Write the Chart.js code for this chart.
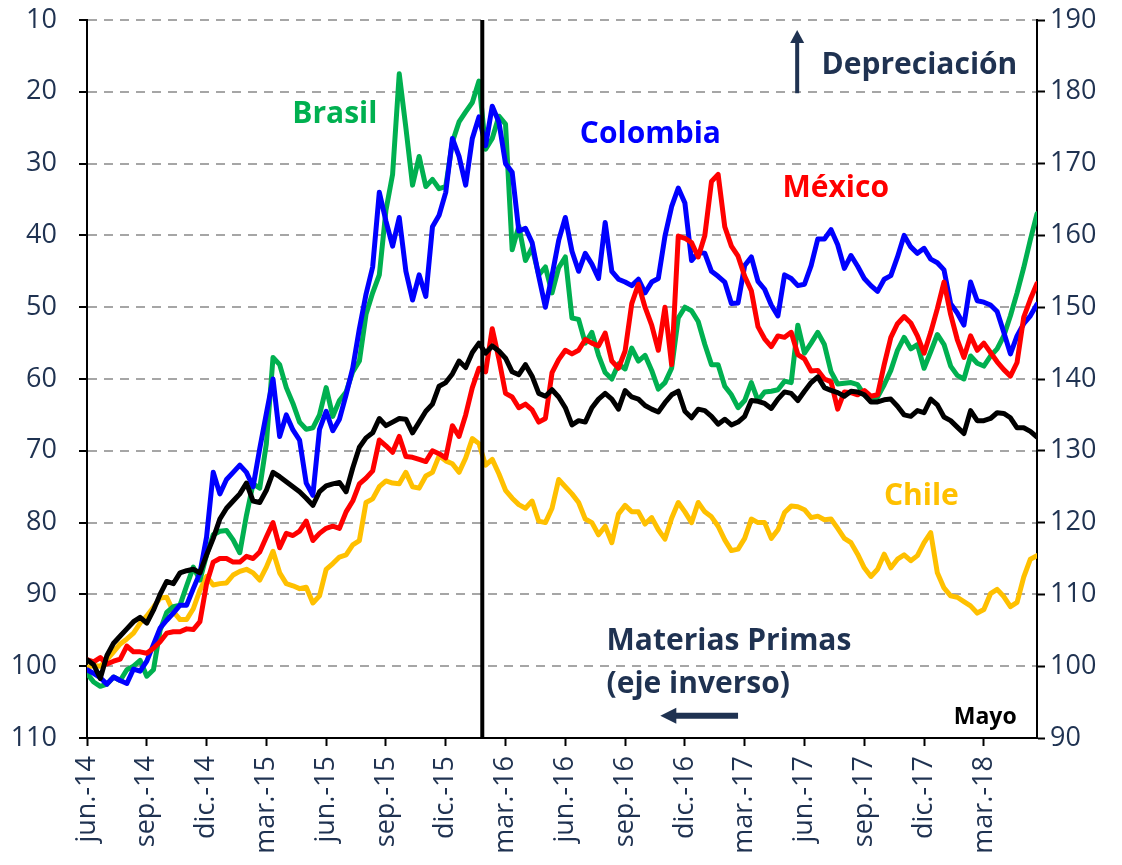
<!DOCTYPE html>
<html lang="es">
<head>
<meta charset="UTF-8">
<title>Monedas y materias primas</title>
<script src="https://cdn.jsdelivr.net/npm/chart.js"></script>
<style>
  body { margin: 0; background: #fff; }
  #wrap { width: 1122px; height: 865px; }
</style>
</head>
<body>
<div id="wrap"><canvas id="grafico" width="1122" height="865"></canvas></div>
<script>
// eje x: 3 observaciones por mes (días 1, 11 y 21), jun.-14 a may.-18
const etiquetasX = ['jun.-14','sep.-14','dic.-14','mar.-15','jun.-15','sep.-15','dic.-15','mar.-16',
                    'jun.-16','sep.-16','dic.-16','mar.-17','jun.-17','sep.-17','dic.-17','mar.-18'];
const obsPorTrimestre = 9;
const corte = 59.5; // línea vertical (ene.-16)

// materias primas, eje izquierdo invertido
const materiasPrimas = [99.1,99.8,101.7,98.5,96.8,95.8,94.8,93.8,93.2,94,
  92.2,90,88.2,88.5,87,86.7,86.5,87,84.5,82.2,
  79.5,78,77,76,74.5,77,77.2,75.5,73,73.6,
  74.3,75,75.7,76.6,77.6,75.7,74.9,74.6,74.4,75.7,
  72.4,69.5,68.2,67.5,65.5,66.5,66,65.5,65.6,67.5,
  66,64.5,63.5,61,60.5,59.3,57.5,58.4,56.3,55,
  56.4,55.4,56.1,57.1,59,59.4,58,59.6,62,62.4,
  61.5,62.5,64,66.4,65.8,66,64,62.8,62,62.8,
  64.2,61.6,62.5,62.8,63.7,64.2,64.6,63.3,62.2,61.7,
  64.5,65.4,64.2,64.4,65.2,66.3,65.6,66.4,66,65.2,
  63,63.1,63.4,64.1,62.8,61.8,62,63,61.7,60.5,
  59.7,61.2,61.6,61.9,62.4,61.7,61.8,62.2,63.2,63.2,
  62.9,62.8,63.8,65,65.2,64.4,64.7,62.8,63.6,65.3,
  65.8,66.7,67.6,64.4,65.8,65.8,65.5,64.7,64.8,65.4,
  66.8,66.8,67.3,68.1];

// monedas, eje derecho
const brasil = [99,97.8,97.2,97.5,98.5,98,99.5,100,100.8,98.6,
  99.5,105,107.5,108.3,108.5,111.2,113.8,112,115.5,118.3,
  118.8,118.9,117.6,115.8,121,125.4,124.8,131,143,142,
  138.8,136.6,134,133,133.2,135,138.8,134.8,137,138.2,
  141,142.5,149,152,154.5,163.5,168.5,182.5,175,167,
  171,166.8,167.8,166.5,166.8,173,175.8,177.2,178.5,181.5,
  172,173.5,176.6,175.5,158,161.3,156.5,158.3,154.5,155.6,
  152,155.5,157,148.5,148.3,145,146.5,143.3,140.9,140,
  142.1,141.4,144.3,142.5,143.3,141.2,138.6,139.5,141.5,148.5,
  150,149.5,148,144.8,142,142,139,137.8,136,137,
  139.5,137,138.2,138.3,138.5,139.7,139.5,147.5,143.6,145,
  146.5,144.8,141,139.3,139.4,139.5,139.2,137.8,137,137.5,
  139.2,141.2,144,145.8,144.2,144.8,141.5,143.8,146.2,144.8,
  141.8,140.5,140,143.2,142.2,141.8,143.2,144.2,146,148.8,
  152,155.5,159.4,163];

const colombia = [99.5,99,98.4,97.5,98.5,98,97.6,99.6,99.3,100.7,
  103,105.3,106.4,107.4,108.5,108.5,110.8,113,118,127,
  124,126,127,128,127,125,130.3,135.2,140,132,
  135,132.9,131.5,125.5,123.8,133,135.5,132.8,134.4,137.8,
  141.5,147,151.8,155.6,166,162,158.5,162.5,155,151,
  154.5,151.5,161.2,162.8,166,173.5,171,167,173.5,176.5,
  172.5,178,175.8,170,168.8,160.6,161,159,154.3,150,
  154.4,159.3,162.5,157.8,155,157.5,156,154,161.8,155,
  153.9,153.5,153,153.9,152,153.5,154,159.9,164,166.6,
  164.5,156.5,157.6,157.5,155,154.3,153.5,150.5,150.6,155.8,
  157,153.6,152.5,150.3,148.8,154.5,154,153,153.2,155.8,
  159.5,159.5,160.8,158.7,155.4,157.2,155.7,154,153,152.2,
  153.9,154.4,157,160,158.4,157.5,158.2,156.7,156.2,155.2,
  150.5,149.2,147.5,153.5,150.9,150.7,150.3,149.4,146.5,143.5,
  146,147.7,148.8,150.4];

const mexico = [100.9,100.6,101.2,100.3,100.7,101,102.8,102,102,101.8,
  102.5,103.4,104.6,104.8,104.8,105.2,105.1,106.2,111.5,114.5,
  115,115,114.5,114.5,115.3,115,115.9,118,120,116.5,
  118.5,118.2,118.8,120.2,117.5,118.5,119.2,119.5,119.2,121.5,
  123,125.4,126.2,127.2,131.5,130.7,129.8,132,129.2,129.1,
  128.8,128.5,130,129.6,129,133.5,132,135,138.8,141.5,
  141,147,142.8,138,137.5,136,136.5,135.7,134,134.5,
  140.9,142.7,144,143.5,144,145.5,145,144.6,146.4,142.5,
  141.5,143.9,150.5,153.2,150,147.5,144,150,142,159.9,
  159.6,159,157,160,167.5,168.5,161.2,158.5,157.1,154.3,
  152.3,147.3,145.6,144.5,146,145.8,146.5,143.4,142.8,141.1,
  141.2,140,139.6,135.8,138.2,138.1,137.8,138.4,137.6,137.8,
  142,145.8,147.7,148.7,147.8,146,143.6,146.5,149.8,153.5,
  149,145.5,143,146,144,145,143.7,142.4,141.3,140.4,
  142.3,148.6,151.1,153.3];

const chile = [99.8,100.1,100,100.9,102,103.1,103.8,104.6,106,107,
  108.2,109.5,109.6,107.6,106.5,106.5,108,110.6,112.5,111.3,
  111.5,111.6,112.7,113.2,113.5,113,112,113.8,116,113,
  111.5,111.2,110.8,111,108.8,109.8,113.5,114.3,115.2,115.5,
  116.9,117.5,122.8,123.3,125,125.8,125.5,125.4,127,125,
  124.8,126.5,127,129.3,128.6,128.2,127,129,131.7,131,
  128,128.8,126.8,124.5,123.4,122.5,122,123,120.2,120,
  122,126,125,124,122.8,120.5,120,118.3,119.5,117.2,
  121.2,122.4,121.5,121.5,119.8,120.7,119,117.7,120.6,122.8,
  121.5,120,122.8,121.5,120.8,119.5,117.6,116.1,116.3,117.8,
  120.5,120,120,117.8,119,121.4,122.3,122.2,121.8,120.7,
  120.9,120.4,120.5,119.2,117.8,117.2,115.6,113.7,112.5,113.5,
  115.6,113.7,114.9,115.5,114.7,115.4,117.2,118.6,113,110.9,
  109.8,109.6,109,108.4,107.4,107.9,110.1,110.7,109.7,108.3,
  108.9,112.4,114.9,115.4];

const fuente = "'Open Sans', sans-serif";
const azulOscuro = '#1F3251';
const grosorLinea = 5;

// textos sobre el gráfico (posición en unidades de los ejes x / derecho)
const anotaciones = [
  { texto: 'Brasil', k: 37.3, v: 176.8, color: '#00B050' },
  { texto: 'Colombia', k: 84.8, v: 174.1, color: '#0000FF' },
  { texto: 'México', k: 112.7, v: 166.6, color: '#FF0000' },
  { texto: 'Chile', k: 125.6, v: 123.6, color: '#FFC000' },
  { texto: 'Depreciación', k: 125.3, v: 183.7, color: azulOscuro },
  { texto: 'Materias Primas', k: 78.2, v: 103.4, color: azulOscuro, align: 'left' },
  { texto: '(eje inverso)', k: 78.2, v: 97.4, color: azulOscuro, align: 'left' },
  { texto: 'Mayo', k: 135.2, v: 92.9, color: '#000', size: 23 }
];

function puntos(serie) {
  return serie.map((v, i) => ({ x: i, y: v }));
}

function serie(nombre, valores, eje, color, orden) {
  return {
    label: nombre, data: puntos(valores), yAxisID: eje,
    borderColor: color, borderWidth: grosorLinea, order: orden,
    pointRadius: 0, tension: 0, fill: false,
    borderJoinStyle: 'round', borderCapStyle: 'round'
  };
}

// ancho fijo de los ejes verticales, sin relleno extra arriba/abajo
function fijarEje(ancho) {
  return s => { s.width = ancho; s.paddingTop = 0; s.paddingBottom = 0; };
}

const pluginExtras = {
  id: 'extras',
  afterDatasetsDraw(chart) {
    const { ctx, chartArea, scales } = chart;
    const x = scales.x, y1 = scales.y1;
    ctx.save();

    // línea vertical
    const xv = x.getPixelForValue(corte);
    ctx.strokeStyle = '#000';
    ctx.lineWidth = 4;
    ctx.beginPath();
    ctx.moveTo(xv, chartArea.top);
    ctx.lineTo(xv, chartArea.bottom);
    ctx.stroke();

    // textos
    ctx.textBaseline = 'middle';
    anotaciones.forEach(a => {
      ctx.font = `bold ${a.size || 30}px ${fuente}`;
      ctx.fillStyle = a.color;
      ctx.textAlign = a.align || 'center';
      ctx.fillText(a.texto, x.getPixelForValue(a.k), y1.getPixelForValue(a.v));
    });

    // flecha hacia arriba (depreciación)
    ctx.fillStyle = azulOscuro;
    ctx.strokeStyle = azulOscuro;
    const xa = x.getPixelForValue(106.9);
    const yBase = y1.getPixelForValue(179.8), yPunta = y1.getPixelForValue(188.6);
    ctx.lineWidth = 4;
    ctx.beginPath(); ctx.moveTo(xa, yBase); ctx.lineTo(xa, yPunta + 10); ctx.stroke();
    ctx.beginPath();
    ctx.moveTo(xa, yPunta); ctx.lineTo(xa - 7, yPunta + 13); ctx.lineTo(xa + 7, yPunta + 13);
    ctx.closePath(); ctx.fill();

    // flecha hacia la izquierda (eje inverso)
    const yf = y1.getPixelForValue(93.1);
    const xCola = x.getPixelForValue(98), xP = x.getPixelForValue(86.3);
    ctx.lineWidth = 6;
    ctx.beginPath(); ctx.moveTo(xCola, yf); ctx.lineTo(xP + 12, yf); ctx.stroke();
    ctx.beginPath();
    ctx.moveTo(xP, yf); ctx.lineTo(xP + 16, yf - 8); ctx.lineTo(xP + 16, yf + 8);
    ctx.closePath(); ctx.fill();

    ctx.restore();
  }
};

const fuenteEjes = { family: fuente, size: 27 };

new Chart(document.getElementById('grafico'), {
  type: 'line',
  data: {
    datasets: [
      serie('Materias Primas', materiasPrimas, 'y', '#000000', 0),
      serie('México', mexico, 'y1', '#FF0000', 1),
      serie('Colombia', colombia, 'y1', '#0000FF', 2),
      serie('Brasil', brasil, 'y1', '#00B050', 3),
      serie('Chile', chile, 'y1', '#FFC000', 4)
    ]
  },
  options: {
    responsive: false,
    animation: false,
    layout: { padding: { top: 20, left: 0, right: 0, bottom: 0 } },
    plugins: { legend: { display: false }, tooltip: { enabled: false } },
    scales: {
      x: {
        type: 'linear',
        min: 0,
        max: materiasPrimas.length - 1,
        afterBuildTicks: s => { s.ticks = etiquetasX.map((_, i) => ({ value: i * obsPorTrimestre })); },
        afterFit: s => { s.height = 127; },
        grid: { drawOnChartArea: false, drawTicks: true, tickLength: 8, tickColor: '#000', tickWidth: 2 },
        border: { color: '#000', width: 2 },
        ticks: {
          autoSkip: false, minRotation: 90, maxRotation: 90, padding: 10,
          color: azulOscuro, font: fuenteEjes,
          callback: (v, i) => etiquetasX[i]
        }
      },
      y: {
        position: 'left',
        reverse: true,
        min: 10,
        max: 110,
        afterFit: fijarEje(87),
        grid: {
          color: c => (c.tick && c.tick.value === 110) ? 'rgba(0,0,0,0)' : '#A6A6A6',
          lineWidth: 2, tickLength: 8, tickColor: '#000', tickWidth: 2
        },
        border: { color: '#000', width: 2, dash: [9, 7] },
        ticks: { stepSize: 10, padding: 22, color: azulOscuro, font: fuenteEjes }
      },
      y1: {
        position: 'right',
        min: 90,
        max: 190,
        afterFit: fijarEje(85),
        grid: { drawOnChartArea: false, tickLength: 8, tickColor: '#000', tickWidth: 2 },
        border: { color: '#000', width: 2 },
        ticks: { stepSize: 10, padding: 5, color: azulOscuro, font: fuenteEjes }
      }
    }
  },
  plugins: [pluginExtras]
});
</script>
</body>
</html>
